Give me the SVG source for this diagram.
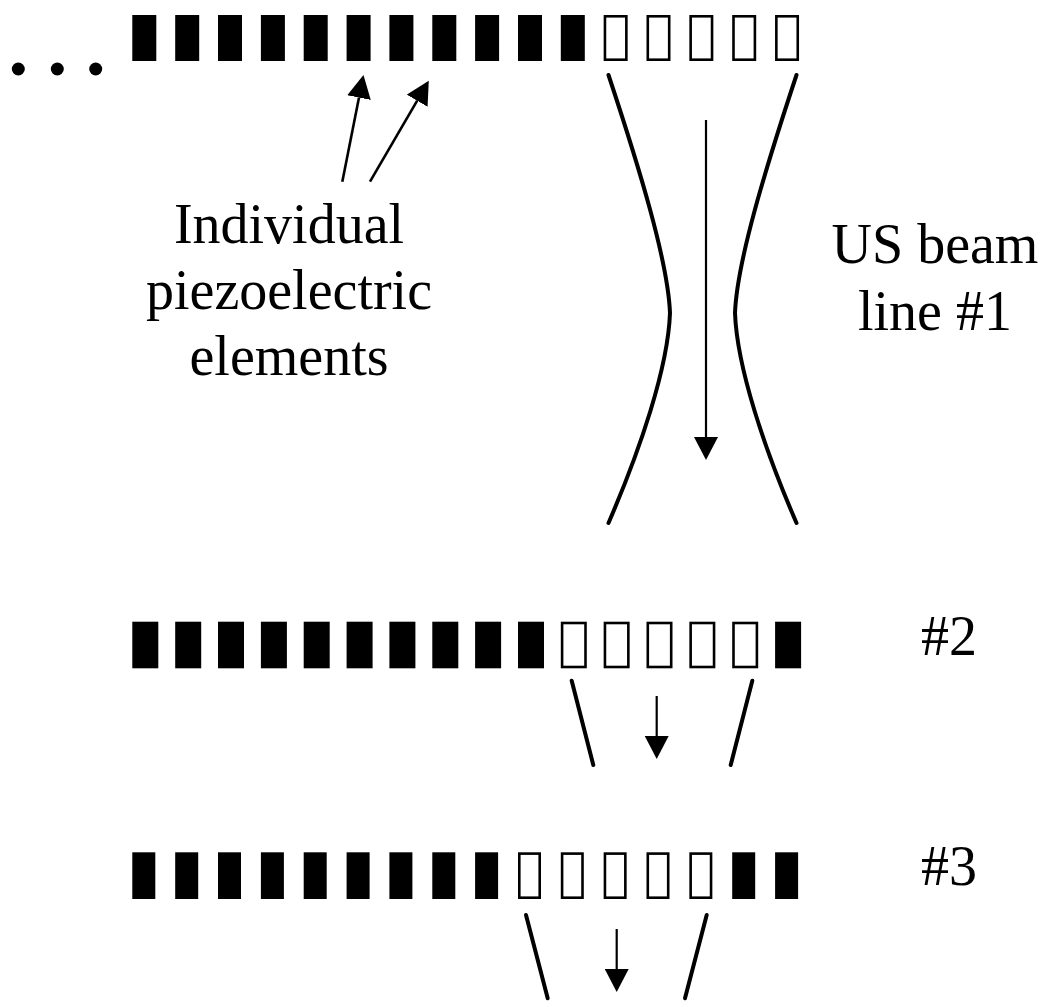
<svg xmlns="http://www.w3.org/2000/svg" width="1051" height="1007" viewBox="0 0 1051 1007">
<style>
.f{fill:#000}
.o{fill:#fff;stroke:#000;stroke-width:2.6}
.beam{fill:none;stroke:#000;stroke-width:4;stroke-linecap:round}
.arr{fill:none;stroke:#000;stroke-width:2.2;marker-end:url(#ah)}
.t{font-family:"Liberation Serif","Times New Roman",serif;font-size:56px;fill:#000;text-anchor:middle}
</style>
<defs>
<marker id="ah" markerUnits="userSpaceOnUse" markerWidth="24" markerHeight="24" refX="0" refY="12" orient="auto" viewBox="0 0 24 24">
<path d="M0,0 L23,12 L0,24 Z" fill="#000"/>
</marker>
</defs>
<rect width="1051" height="1007" fill="#fff"/>

<g id="dots">
<circle cx="18.3" cy="69" r="6.5" class="f"/>
<circle cx="57.3" cy="69" r="6.5" class="f"/>
<circle cx="95.7" cy="69" r="6.5" class="f"/>
</g>

<g id="array1">
<rect x="132.3" y="15" width="24" height="46" class="f"/>
<rect x="175.2" y="15" width="24" height="46" class="f"/>
<rect x="218.0" y="15" width="24" height="46" class="f"/>
<rect x="260.9" y="15" width="24" height="46" class="f"/>
<rect x="303.7" y="15" width="24" height="46" class="f"/>
<rect x="346.6" y="15" width="24" height="46" class="f"/>
<rect x="389.4" y="15" width="24" height="46" class="f"/>
<rect x="432.3" y="15" width="24" height="46" class="f"/>
<rect x="475.1" y="15" width="24" height="46" class="f"/>
<rect x="518.0" y="15" width="24" height="46" class="f"/>
<rect x="560.8" y="15" width="24" height="46" class="f"/>
<rect x="604.95" y="16.3" width="21.4" height="43.4" class="o"/>
<rect x="647.8" y="16.3" width="21.4" height="43.4" class="o"/>
<rect x="690.65" y="16.3" width="21.4" height="43.4" class="o"/>
<rect x="733.5" y="16.3" width="21.4" height="43.4" class="o"/>
<rect x="776.35" y="16.3" width="21.4" height="43.4" class="o"/>
</g>

<g id="array2">
<rect x="132.3" y="621.7" width="26" height="46.6" class="f"/>
<rect x="175.2" y="621.7" width="26" height="46.6" class="f"/>
<rect x="218.0" y="621.7" width="26" height="46.6" class="f"/>
<rect x="260.9" y="621.7" width="26" height="46.6" class="f"/>
<rect x="303.7" y="621.7" width="26" height="46.6" class="f"/>
<rect x="346.6" y="621.7" width="26" height="46.6" class="f"/>
<rect x="389.4" y="621.7" width="26" height="46.6" class="f"/>
<rect x="432.3" y="621.7" width="26" height="46.6" class="f"/>
<rect x="475.1" y="621.7" width="26" height="46.6" class="f"/>
<rect x="518.0" y="621.7" width="26" height="46.6" class="f"/>
<rect x="562.1" y="623.0" width="23.4" height="44" class="o"/>
<rect x="604.95" y="623.0" width="23.4" height="44" class="o"/>
<rect x="647.8" y="623.0" width="23.4" height="44" class="o"/>
<rect x="690.65" y="623.0" width="23.4" height="44" class="o"/>
<rect x="733.5" y="623.0" width="23.4" height="44" class="o"/>
<rect x="775.1" y="621.7" width="26" height="46.6" class="f"/>
</g>

<g id="array3">
<rect x="132.3" y="852.3" width="23" height="46.7" class="f"/>
<rect x="175.2" y="852.3" width="23" height="46.7" class="f"/>
<rect x="218.0" y="852.3" width="23" height="46.7" class="f"/>
<rect x="260.9" y="852.3" width="23" height="46.7" class="f"/>
<rect x="303.7" y="852.3" width="23" height="46.7" class="f"/>
<rect x="346.6" y="852.3" width="23" height="46.7" class="f"/>
<rect x="389.4" y="852.3" width="23" height="46.7" class="f"/>
<rect x="432.3" y="852.3" width="23" height="46.7" class="f"/>
<rect x="475.1" y="852.3" width="23" height="46.7" class="f"/>
<rect x="519.3" y="853.6" width="20.4" height="44.1" class="o"/>
<rect x="562.1" y="853.6" width="20.4" height="44.1" class="o"/>
<rect x="604.95" y="853.6" width="20.4" height="44.1" class="o"/>
<rect x="647.8" y="853.6" width="20.4" height="44.1" class="o"/>
<rect x="690.65" y="853.6" width="20.4" height="44.1" class="o"/>
<rect x="732.2" y="852.3" width="23" height="46.7" class="f"/>
<rect x="775.1" y="852.3" width="23" height="46.7" class="f"/>
</g>

<g id="connectors">
<path class="beam" d="M608.5,75 C640,170 668,262 670,313 C668,368 640,450 608.5,523"/>
<path class="beam" d="M796.5,75 C765,170 737,262 735,313 C737,368 765,450 796.5,523"/>
<line class="arr" x1="706" y1="120" x2="706" y2="437"/>
<line class="beam" x1="571.7" y1="680.7" x2="593.3" y2="765"/>
<line class="beam" x1="752.3" y1="680.7" x2="730.7" y2="765"/>
<line class="arr" x1="656.7" y1="696" x2="656.7" y2="736"/>
<line class="beam" x1="526" y1="915" x2="547.7" y2="998.3"/>
<line class="beam" x1="706.7" y1="915" x2="685" y2="998.3"/>
<line class="arr" x1="616.7" y1="929" x2="616.7" y2="969"/>
<line class="arr" style="stroke-width:2.6" x1="342.3" y1="181.7" x2="359" y2="97.6"/>
<line class="arr" style="stroke-width:2.6" x1="370" y1="181.7" x2="417.2" y2="100.7"/>
</g>

<g id="labels">
<text class="t" x="289" y="243">Individual</text>
<text class="t" x="289" y="309">piezoelectric</text>
<text class="t" x="289" y="375">elements</text>
<text class="t" x="935" y="263">US beam</text>
<text class="t" x="935" y="330">line #1</text>
<text class="t" x="949" y="655">#2</text>
<text class="t" x="949" y="885">#3</text>
</g>
</svg>
